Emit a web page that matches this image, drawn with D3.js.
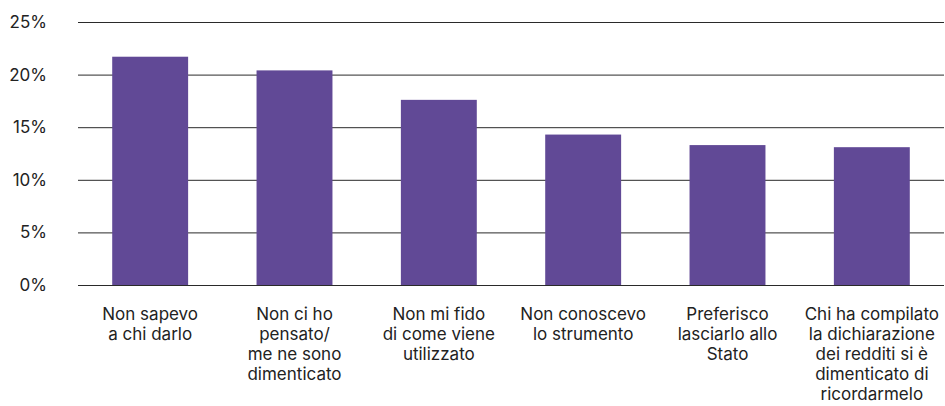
<!DOCTYPE html>
<html>
<head>
<meta charset="utf-8">
<script src="https://cdn.jsdelivr.net/npm/d3@7"></script>
<style>
  html, body { margin: 0; padding: 0; background: #fff; }
  svg { display: block; }
  text { font-family: Inter, "Noto Sans", sans-serif; fill: #222; }
</style>
</head>
<body>
<svg id="chart" width="945" height="406"></svg>
<script>
// Motivi per cui non è stato destinato il 2x1000 (quote %)
const categories = [
  "Non sapevo\na chi darlo",
  "Non ci ho\npensato/\nme ne sono\ndimenticato",
  "Non mi fido\ndi come viene\nutilizzato",
  "Non conoscevo\nlo strumento",
  "Preferisco\nlasciarlo allo\nStato",
  "Chi ha compilato\nla dichiarazione\ndei redditi si è\ndimenticato di\nricordarmelo"
];
const values = [21.7, 20.4, 17.6, 14.3, 13.3, 13.1];
const yTicks = [0, 5, 10, 15, 20, 25];

const svg = d3.select("#chart");
const plotLeft = 78, plotRight = 944, plotTop = 22, plotBottom = 285;

const x = d3.scaleBand()
  .domain(categories)
  .range([plotLeft, plotRight])
  .paddingInner(0.474)
  .paddingOuter(0.237);

const y = d3.scaleLinear()
  .domain([0, 25])
  .range([plotBottom, plotTop]);

// Gridlines with percentage labels
const yAxis = d3.axisLeft(y)
  .tickValues(yTicks)
  .tickFormat(d => d + "%")
  .tickSize(-(plotRight - plotLeft))
  .tickPadding(31);

const gy = svg.append("g")
  .attr("transform", `translate(${plotLeft},0)`)
  .call(yAxis);
gy.select(".domain").remove();
gy.selectAll(".tick line").attr("stroke", "#2a2a2a").attr("stroke-width", 1);
gy.selectAll(".tick text")
  .attr("font-size", 17)
  .attr("font-family", "Inter, 'Noto Sans', sans-serif")
  .attr("fill", "#222");

// Bars
svg.append("g")
  .selectAll("rect")
  .data(values)
  .join("rect")
  .attr("x", (d, i) => x(categories[i]))
  .attr("y", d => y(d))
  .attr("width", x.bandwidth())
  .attr("height", d => y(0) - y(d))
  .attr("fill", "#614996");

// Category labels, one tspan per line
const labels = svg.append("g")
  .selectAll("text")
  .data(categories)
  .join("text")
  .attr("text-anchor", "middle")
  .attr("font-size", 17)
  .attr("x", d => x(d) + x.bandwidth() / 2)
  .attr("y", 320);

labels.selectAll("tspan")
  .data(d => d.split("\n"))
  .join("tspan")
  .attr("x", function () { return d3.select(this.parentNode).attr("x"); })
  .attr("dy", (d, i) => i === 0 ? 0 : 20)
  .text(d => d);
</script>
</body>
</html>
